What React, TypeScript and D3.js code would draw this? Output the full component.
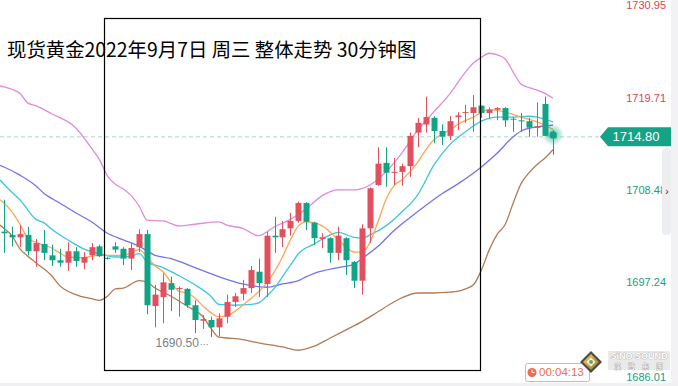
import * as d3 from "d3";

const W = 678;
const H = 386;

const TITLE = "现货黄金2022年9月7日 周三 整体走势 30分钟图";

// 30-minute bars: [open, high, low, close]
const candles: [number, number, number, number][] = [
  [1703.4, 1707.3, 1700.8, 1703.2], [1703.0, 1704.0, 1701.6, 1702.7], [1702.7, 1704.2, 1701.5, 1703.1],
  [1703.0, 1704.0, 1700.5, 1701.0], [1701.0, 1702.5, 1699.1, 1702.0], [1701.9, 1703.6, 1699.9, 1700.8],
  [1700.5, 1701.8, 1699.2, 1699.9], [1699.9, 1701.3, 1699.1, 1699.6], [1699.6, 1702.1, 1698.6, 1701.0],
  [1701.0, 1701.5, 1699.1, 1699.8], [1699.6, 1700.9, 1698.8, 1700.3], [1700.5, 1702.0, 1699.9, 1701.5],
  [1701.6, 1701.8, 1700.3, 1700.4], [1700.2, 1700.3, 1700.0, 1700.1], [1701.6, 1702.1, 1700.8, 1701.2],
  [1701.3, 1701.5, 1699.3, 1700.1], [1700.1, 1702.0, 1698.7, 1701.4], [1701.5, 1703.7, 1700.9, 1703.1],
  [1703.1, 1703.6, 1693.3, 1694.4], [1694.3, 1696.9, 1691.7, 1695.7], [1695.4, 1698.3, 1692.2, 1697.2],
  [1697.1, 1697.9, 1693.7, 1696.3], [1696.4, 1696.7, 1693.0, 1696.5], [1696.4, 1696.5, 1694.1, 1694.4],
  [1694.4, 1695.0, 1691.0, 1692.6], [1692.5, 1693.2, 1691.5, 1692.7], [1692.6, 1693.0, 1690.5, 1691.7],
  [1691.7, 1693.4, 1690.6, 1692.8], [1693.0, 1695.7, 1692.2, 1694.8], [1694.8, 1695.9, 1694.2, 1695.5],
  [1695.8, 1697.5, 1695.0, 1696.5], [1696.5, 1699.2, 1695.9, 1698.7], [1698.5, 1700.1, 1695.4, 1697.1],
  [1697.0, 1703.4, 1695.4, 1702.9], [1702.9, 1705.2, 1700.8, 1702.7], [1702.7, 1704.7, 1701.5, 1703.7],
  [1703.8, 1705.7, 1702.9, 1704.7], [1704.7, 1707.1, 1704.5, 1706.9], [1706.9, 1707.0, 1703.6, 1704.6],
  [1704.5, 1704.6, 1701.8, 1702.6], [1702.5, 1703.2, 1701.4, 1702.7], [1702.6, 1702.7, 1699.6, 1700.8],
  [1700.8, 1704.0, 1699.9, 1702.9], [1702.6, 1702.7, 1698.1, 1699.9], [1699.7, 1699.8, 1696.5, 1697.4],
  [1697.4, 1704.3, 1695.7, 1703.8], [1703.8, 1708.8, 1702.0, 1708.7], [1709.1, 1713.7, 1709.0, 1711.7],
  [1711.8, 1713.7, 1708.9, 1710.6], [1710.6, 1712.4, 1709.1, 1710.7], [1710.7, 1711.7, 1709.0, 1711.4],
  [1711.4, 1715.5, 1710.1, 1715.1], [1715.5, 1717.3, 1713.7, 1716.7], [1716.5, 1719.9, 1715.5, 1717.4],
  [1717.3, 1717.5, 1714.2, 1715.7], [1715.7, 1716.5, 1714.0, 1715.0], [1715.1, 1717.5, 1714.6, 1716.9],
  [1717.4, 1718.0, 1715.8, 1717.6], [1717.9, 1718.9, 1716.7, 1718.0], [1717.9, 1720.1, 1715.6, 1718.6],
  [1718.8, 1718.8, 1717.3, 1717.9], [1717.9, 1718.6, 1717.2, 1718.3], [1718.3, 1718.6, 1717.0, 1718.5],
  [1718.5, 1718.6, 1716.2, 1717.0], [1717.2, 1717.4, 1715.6, 1717.1], [1717.0, 1717.9, 1715.6, 1716.9],
  [1716.9, 1717.3, 1715.0, 1716.1], [1716.1, 1719.2, 1715.0, 1716.3], [1719.0, 1719.9, 1715.1, 1715.1],
  [1715.5, 1715.8, 1712.8, 1714.8],
];

// indicator lines as [bar index, price]
const upperBand: [number, number][] = [
  [-0.5, 1721.2], [0, 1721.1], [1, 1720.8], [2, 1720.3], [3, 1719.1], [4, 1718.8], [6, 1717.8], [9, 1716.1],
  [11, 1713.6], [12, 1712.2], [13, 1710.2], [14, 1709.2], [15, 1708.6], [16, 1707.8], [17, 1706.5], [18, 1704.8],
  [20, 1704.7], [22, 1704.1], [24, 1704.3], [27, 1704.6], [28, 1704.2], [30, 1703.8], [32, 1702.9], [34, 1704.0],
  [36, 1704.9], [38, 1706.2], [40, 1707.8], [42, 1708.5], [44, 1708.5], [46, 1709.1], [48, 1710.7], [50, 1713.0],
  [52, 1715.8], [54, 1718.0], [56, 1720.2], [58, 1722.9], [59, 1724.0], [60, 1724.7], [61, 1725.2], [62, 1725.0],
  [63, 1724.5], [64, 1722.9], [65, 1721.4], [66, 1721.0], [67, 1720.7], [68, 1720.3], [69, 1719.7],
];
const lowerBand: [number, number][] = [
  [-0.5, 1704.2], [0, 1703.8], [1, 1702.9], [2, 1701.3], [3, 1700.4], [4, 1699.6], [6, 1698.0], [7, 1696.8],
  [9, 1695.7], [11, 1695.2], [12, 1695.0], [13, 1695.5], [14, 1696.4], [15, 1696.5], [17, 1697.4], [18, 1697.2],
  [19, 1696.5], [21, 1695.5], [23, 1694.3], [25, 1693.0], [26, 1691.6], [27, 1690.5], [28, 1690.4], [30, 1690.2],
  [32, 1689.8], [35, 1689.3], [37, 1688.9], [39, 1689.4], [41, 1690.4], [43, 1691.4], [45, 1692.4], [47, 1693.6],
  [49, 1694.8], [50, 1695.3], [52, 1695.9], [54, 1695.9], [56, 1696.0], [57, 1696.1], [58, 1696.4], [59, 1696.9],
  [60, 1698.7], [61, 1701.2], [62, 1703.1], [63, 1704.3], [64, 1706.9], [65, 1709.3], [66, 1710.6], [67, 1711.6],
  [68, 1712.4], [69, 1713.4],
];
const ma20: [number, number][] = [
  [-0.5, 1711.5], [0, 1711.3], [2, 1710.3], [4, 1709.0], [5, 1708.1], [7, 1706.9], [9, 1705.7], [11, 1704.6],
  [13, 1703.2], [15, 1702.4], [17, 1701.6], [19, 1700.5], [21, 1700.1], [24, 1699.0], [27, 1697.9], [30, 1697.0],
  [33, 1696.6], [35, 1697.0], [37, 1697.4], [38, 1697.9], [39, 1698.3], [42, 1699.0], [44, 1699.4], [45, 1700.1],
  [47, 1701.6], [49, 1703.5], [51, 1705.1], [53, 1706.6], [55, 1708.0], [57, 1709.2], [60, 1711.3], [62, 1713.0],
  [64, 1715.0], [65, 1715.7], [67, 1716.2], [69, 1716.4],
];
const ma10: [number, number][] = [
  [-0.5, 1709.7], [1, 1708.2], [2, 1707.3], [4, 1704.9], [5, 1704.5], [6, 1703.7], [8, 1702.4], [10, 1701.3],
  [12, 1700.7], [14, 1700.3], [15, 1700.3], [16, 1700.4], [17, 1700.7], [18, 1699.7], [20, 1699.0], [22, 1698.0],
  [24, 1696.9], [26, 1695.5], [27, 1694.5], [29, 1694.4], [31, 1694.5], [32, 1694.7], [33, 1695.5], [34, 1696.5],
  [35, 1697.9], [36, 1699.3], [37, 1700.7], [39, 1701.9], [41, 1703.0], [42, 1703.3], [44, 1702.7], [45, 1702.6],
  [46, 1703.0], [48, 1704.1], [50, 1705.8], [52, 1707.9], [54, 1711.5], [56, 1714.0], [58, 1715.6], [60, 1716.9],
  [62, 1717.4], [64, 1717.4], [66, 1717.5], [67, 1717.4], [69, 1716.8],
];
const ma5: [number, number][] = [
  [-0.5, 1707.3], [0, 1706.9], [1, 1705.8], [2, 1704.3], [3, 1702.6], [4, 1702.1], [6, 1701.4], [7, 1700.8],
  [8, 1700.3], [10, 1700.2], [11, 1700.4], [12, 1700.5], [15, 1700.5], [17, 1701.2], [18, 1700.3], [19, 1699.2],
  [20, 1698.5], [21, 1697.2], [22, 1696.1], [23, 1695.9], [24, 1695.3], [25, 1694.3], [26, 1693.5], [27, 1693.0],
  [28, 1693.1], [30, 1694.4], [31, 1695.2], [33, 1697.1], [35, 1700.3], [36, 1702.4], [37, 1704.1], [38, 1704.6],
  [39, 1704.5], [40, 1704.1], [42, 1702.4], [43, 1701.5], [44, 1700.9], [45, 1700.9], [46, 1702.1], [47, 1704.6],
  [48, 1707.3], [49, 1709.0], [50, 1709.7], [51, 1710.7], [52, 1711.9], [53, 1713.4], [54, 1714.6], [56, 1715.8],
  [57, 1716.5], [59, 1717.4], [61, 1718.3], [63, 1718.0], [65, 1717.4], [67, 1716.8], [69, 1715.9],
];

const axisTicks = [1730.95, 1719.71, 1708.48, 1697.24, 1686.01];
const lastPrice = 1714.8;
const lowMark = 1690.5;
const lowIndex = 26;
const countdown = "00:04:13";

const UP = "#e2505e";
const DOWN = "#11a386";
const NUM_FONT = "'Liberation Sans', Arial, sans-serif";

export default function App() {
  const x = d3.scaleLinear().domain([0, candles.length - 1]).range([4, 553]);
  const y = d3.scaleLinear().domain([1686.01, 1730.95]).range([373.9, 6.2]);
  const bodyW = 6;

  const line = d3
    .line<[number, number]>()
    .x((d) => x(d[0]))
    .y((d) => y(d[1]))
    .curve(d3.curveMonotoneX);

  const series = [
    { data: upperBand, color: "#e08ad8" },
    { data: lowerBand, color: "#b47a55" },
    { data: ma20, color: "#7373f0" },
    { data: ma10, color: "#3cc6df" },
    { data: ma5, color: "#ffa453" },
  ];

  const lastX = x(candles.length - 1);
  const lastY = y(lastPrice) - 1.5;

  // axis label nudges: top one sits just inside the edge, bottom one drops a bit
  const labelY = (i: number, t: number) =>
    i === 0 ? 6 : i === axisTicks.length - 1 ? y(t) + 4 : y(t) + 1;

  return (
    <svg
      width={W}
      height={H}
      style={{ position: "absolute", left: 0, top: 0, background: "#fff" }}
    >
      <defs>
        <radialGradient id="glow">
          <stop offset="0%" stopColor="#11a386" stopOpacity={0.7} />
          <stop offset="100%" stopColor="#11a386" stopOpacity={0} />
        </radialGradient>
        <linearGradient id="gold" x1="0" y1="0" x2="1" y2="1">
          <stop offset="0%" stopColor="#f3d36a" />
          <stop offset="100%" stopColor="#9a7a1c" />
        </linearGradient>
      </defs>

      {/* grey edges */}
      <rect x={671} y={0} width={7} height={H} fill="#f2f2f4" />
      <rect x={0} y={383} width={W} height={3} fill="#f0f0f2" />

      {/* current price dashed line */}
      <line x1={0} x2={600} y1={lastY} y2={lastY} stroke="#a6dccd" strokeDasharray="4,3" />

      {series.map((s, i) => (
        <path key={i} d={line(s.data) ?? ""} fill="none" stroke={s.color} strokeWidth={1.3} />
      ))}

      {candles.map(([o, h, l, c], i) => {
        const cx = Math.round(x(i)) + 0.5;
        const color = c >= o ? UP : DOWN;
        const top = y(Math.max(o, c));
        const bh = Math.max(1, y(Math.min(o, c)) - top);
        return (
          <g key={i}>
            <line x1={cx} x2={cx} y1={y(h)} y2={y(l)} stroke={color} strokeWidth={1} />
            <rect x={cx - bodyW / 2} y={top} width={bodyW} height={bh} fill={color} />
          </g>
        );
      })}

      {/* last bar glow */}
      <circle cx={lastX} cy={lastY - 2} r={11} fill="url(#glow)" />
      <circle cx={lastX} cy={lastY - 2} r={3.5} fill={DOWN} />

      {/* low marker */}
      <text
        x={x(lowIndex) - 12}
        y={y(lowMark) + 7}
        textAnchor="end"
        dominantBaseline="middle"
        fontFamily={NUM_FONT}
        fontSize={12}
        fill="#7b8089"
      >
        {lowMark.toFixed(2)}
      </text>
      <text
        x={x(lowIndex) - 11}
        y={y(lowMark) + 7}
        dominantBaseline="middle"
        fontFamily={NUM_FONT}
        fontSize={9}
        fill="#7b8089"
      >
        ···
      </text>

      {/* right axis */}
      {axisTicks.map((t, i) => (
        <text
          key={t}
          x={666}
          y={labelY(i, t)}
          textAnchor="end"
          dominantBaseline="middle"
          fontFamily={NUM_FONT}
          fontSize={11}
          fill={t > lastPrice ? "#e2444f" : "#13a083"}
        >
          {t.toFixed(2)}
        </text>
      ))}

      {/* scroll thumb */}
      <rect x={662} y={148} width={9} height={87} rx={4} fill="#eceef2" />
      <text x={667} y={192} textAnchor="middle" dominantBaseline="middle" fontSize={10} fontFamily={NUM_FONT} fill="#333">
        ›
      </text>

      {/* last price tag */}
      <path
        d={`M600,${lastY} L608,${lastY - 9.5} L671,${lastY - 9.5} L671,${lastY + 9.5} L608,${lastY + 9.5} Z`}
        fill="#14a386"
      />
      <text
        x={636}
        y={lastY + 1}
        textAnchor="middle"
        dominantBaseline="middle"
        fontFamily={NUM_FONT}
        fontSize={13}
        fill="#fff"
      >
        {lastPrice.toFixed(2)}
      </text>

      {/* countdown */}
      <rect x={525.5} y={363.5} width={64} height={18} rx={2} fill="#fff" stroke="#f6a98e" />
      <circle cx={532} cy={372.5} r={4.5} fill="#f36b4c" />
      <line x1={532} x2={532} y1={369.5} y2={372.5} stroke="#fff" strokeWidth={1} />
      <line x1={532} x2={534.5} y1={372.5} y2={372.5} stroke="#fff" strokeWidth={1} />
      <text x={539} y={373} dominantBaseline="middle" fontFamily={NUM_FONT} fontSize={11.5} fill="#f36b4c">
        {countdown}
      </text>

      {/* watermark logo */}
      <g transform="translate(591,362)">
        <path d="M0,-11 L11,0 L0,11 L-11,0 Z" fill="#4a4a4a" />
        <path d="M0,-8 L8,0 L0,8 L-8,0 Z" fill="url(#gold)" />
        <path d="M0,-4.5 L4.5,0 L0,4.5 L-4.5,0 Z" fill="#f3f3f3" />
        <circle r={2} fill="#6aa84f" />
      </g>
      <rect x={608} y={351} width={62} height={19} fill="#d8d8d8" opacity={0.55} />
      <text
        x={639}
        y={359}
        textAnchor="middle"
        fontFamily={NUM_FONT}
        fontWeight="bold"
        fontSize={9}
        fill="#fff"
        stroke="#9a9a9a"
        strokeWidth={0.6}
        paintOrder="stroke"
      >
        SiNO SOUND
      </text>
      <text
        x={642}
        y={369}
        textAnchor="middle"
        fontFamily="'Noto Sans CJK TC', sans-serif"
        fontSize={7}
        fill="#fff"
        stroke="#9a9a9a"
        strokeWidth={0.5}
        paintOrder="stroke"
        letterSpacing={7}
      >
        漢聲集團
      </text>

      {/* annotation box */}
      <rect x={104.5} y={18.5} width={376} height={352} fill="none" stroke="#000" strokeWidth={1.2} />

      <text x={7} y={57} fontFamily="'Noto Sans CJK SC', sans-serif" fontSize={19.4} fill="#000">
        {TITLE}
      </text>
    </svg>
  );
}
